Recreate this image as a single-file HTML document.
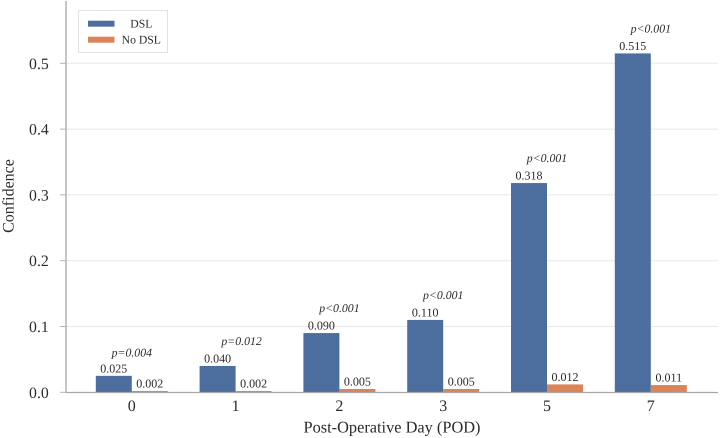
<!DOCTYPE html>
<html>
<head>
<meta charset="utf-8">
<style>
html,body{margin:0;padding:0;background:#fff;width:720px;height:438px;overflow:hidden}
svg{display:block;font-family:"Liberation Serif",serif;text-rendering:geometricPrecision}
text{fill:#2b2b2b}
</style>
</head>
<body>
<svg id="chart" width="720" height="438" viewBox="0 0 720 438" xmlns="http://www.w3.org/2000/svg">
  <g id="grid"></g>
  <g id="bars"></g>
  <g id="labels"></g>
  <line x1="66" x2="66" y1="1" y2="392.5" stroke="#b4b4b4" stroke-width="1.5"/>
  <line x1="65.5" x2="718" y1="392.5" y2="392.5" stroke="#a8a8a8" stroke-width="1.2"/>
  <g id="ticks"></g>
  <text x="392" y="432.5" text-anchor="middle" font-size="16.35">Post-Operative Day (POD)</text>
  <text transform="translate(13.5,196) rotate(-90)" text-anchor="middle" font-size="16">Confidence</text>
  <g>
    <rect x="78.5" y="10.5" width="89" height="42" fill="#fff" stroke="#e2e2e2" stroke-width="1"/>
    <rect x="88" y="20.7" width="26.5" height="6" fill="#4c6e9f"/>
    <rect x="88" y="36.7" width="26.5" height="6" fill="#db8458"/>
    <text x="141.3" y="27.7" text-anchor="middle" font-size="11.7">DSL</text>
    <text x="141.3" y="43.5" text-anchor="middle" font-size="11.7">No DSL</text>
  </g>
</svg>
<script>
const categories = ["0", "1", "2", "3", "5", "7"];
const dslValues = [0.025, 0.040, 0.090, 0.110, 0.318, 0.515];
const noDslValues = [0.002, 0.002, 0.005, 0.005, 0.012, 0.011];
const pLabels = ["p=0.004", "p=0.012", "p<0.001", "p<0.001", "p<0.001", "p<0.001"];
const yTicks = [0, 0.1, 0.2, 0.3, 0.4, 0.5];

const NS = "http://www.w3.org/2000/svg";
const BAR_WIDTH = 36;
function xCenter(i) { return 131.8 + i * 103.8; }
function yScale(v) { return 392.3 - v * 658; }
function make(parent, tag, attrs, txt) {
  const el = document.createElementNS(NS, tag);
  for (const k in attrs) el.setAttribute(k, attrs[k]);
  if (txt !== undefined) el.textContent = txt;
  document.getElementById(parent).appendChild(el);
  return el;
}

yTicks.forEach(function (t) {
  const y = yScale(t);
  if (t > 0) {
    const g = make("grid", "line", { x1: 66, x2: 718, y1: y, y2: y, stroke: "#e8e8e8", "stroke-width": 1 });
    
    
  }
  const m = make("ticks", "line", { x1: 60, x2: 66, y1: y, y2: y, stroke: "#b4b4b4", "stroke-width": 1 });
  
  
  const l = make("ticks", "text", { x: 48.8, y: y + 5.5, "text-anchor": "end", "font-size": 15.8 }, t.toFixed(1));
  
  
});

categories.forEach(function (c, i) {
  const cx = xCenter(i);
  const yA = yScale(dslValues[i]);
  const yB = yScale(noDslValues[i]);

  const a = make("bars", "rect", { x: cx - BAR_WIDTH, y: yA, width: BAR_WIDTH, height: yScale(0) - yA, fill: "#4c6e9f" });
  
  
  const b = make("bars", "rect", { x: cx, y: yB, width: BAR_WIDTH, height: yScale(0) - yB, fill: "#db8458" });
  
  

  const va = make("labels", "text", { x: cx - BAR_WIDTH / 2, y: yA - 3.5, "text-anchor": "middle", "font-size": 12 }, dslValues[i].toFixed(3));
  
  
  const vb = make("labels", "text", { x: cx + BAR_WIDTH / 2, y: yB - 3.5, "text-anchor": "middle", "font-size": 12 }, noDslValues[i].toFixed(3));
  
  

  const nudgeX = i === 1 ? 6 : 0;
  const lift = i === 0 ? 19.5 : 21;
  const p = make("labels", "text", { x: cx + nudgeX, y: yA - lift, "text-anchor": "middle", "font-size": 11.8, "font-style": "italic" }, pLabels[i]);
  
  

  const xl = make("ticks", "text", { x: cx, y: 411, "text-anchor": "middle", "font-size": 16 }, c);
  
  
});
</script>
</body>
</html>
